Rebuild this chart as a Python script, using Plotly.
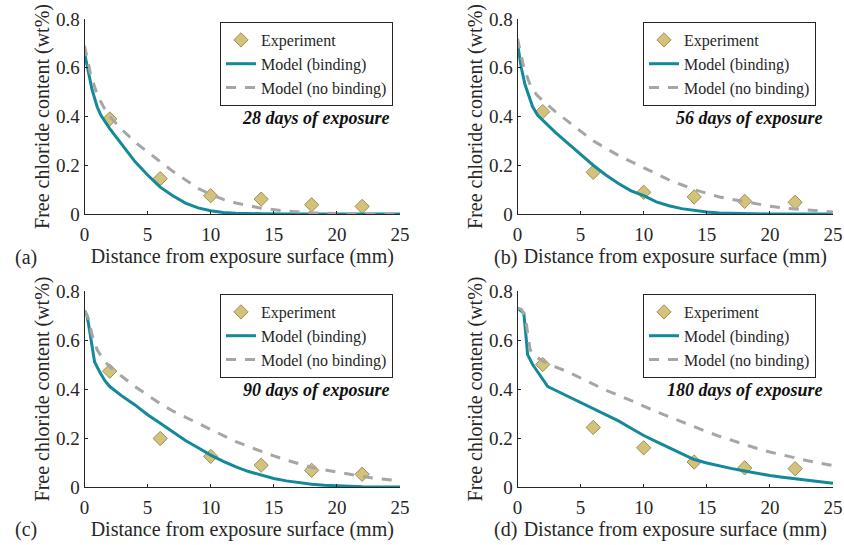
import plotly.graph_objects as go

# ---------------- data ----------------
exp_x = [2, 6, 10, 14, 18, 22]
exp_a = [0.39, 0.145, 0.075, 0.061, 0.038, 0.031]
exp_b = [0.42, 0.171, 0.089, 0.070, 0.052, 0.048]
exp_c = [0.473, 0.198, 0.125, 0.089, 0.068, 0.052]
exp_d = [0.50, 0.243, 0.160, 0.102, 0.078, 0.075]

bind_a_x = [0, 0.3, 0.6, 1.0, 1.3, 2, 3, 4, 5, 6, 7, 8, 9, 10, 11, 12, 14, 16, 25]
bind_a_y = [0.66, 0.58, 0.51, 0.44, 0.405, 0.35, 0.28, 0.215, 0.16, 0.11, 0.075, 0.045,
            0.025, 0.013, 0.006, 0.003, 0.001, 0.0, 0.0]
nob_a_x = [0, 0.5, 1, 1.5, 2, 3, 4, 5, 6, 7, 8, 9, 10, 11, 12, 13, 14, 16, 18, 20, 22, 25]
nob_a_y = [0.69, 0.57, 0.49, 0.44, 0.40, 0.345, 0.295, 0.255, 0.215, 0.175, 0.14, 0.105,
           0.08, 0.06, 0.045, 0.033, 0.024, 0.012, 0.005, 0.002, 0.001, 0.0]

bind_b_x = [0, 0.3, 0.6, 0.9, 1.2, 1.6, 2, 3, 4, 5, 6, 7, 8, 9, 10, 11, 12, 13, 14, 15, 16, 18, 20, 25]
bind_b_y = [0.70, 0.60, 0.53, 0.48, 0.44, 0.405, 0.385, 0.335, 0.29, 0.245, 0.20, 0.16, 0.125,
            0.095, 0.075, 0.05, 0.034, 0.022, 0.014, 0.008, 0.004, 0.001, 0.0, 0.0]
nob_b_x = [0, 0.5, 1, 1.5, 2, 3, 4, 5, 6, 7, 8, 9, 10, 11, 12, 13, 14, 15, 16, 17, 18, 19, 20,
           21, 22, 23, 24, 25]
nob_b_y = [0.72, 0.60, 0.53, 0.49, 0.465, 0.42, 0.38, 0.34, 0.30, 0.27, 0.24, 0.215, 0.19,
           0.165, 0.14, 0.12, 0.10, 0.085, 0.07, 0.06, 0.05, 0.04, 0.032, 0.025, 0.02, 0.015,
           0.011, 0.008]

bind_c_x = [0, 0.2, 0.4, 0.6, 0.8, 1.2, 1.6, 2, 3, 4, 5, 6, 7, 8, 9, 10, 11, 12, 13, 14, 15, 16,
            17, 18, 19, 20, 22, 25]
bind_c_y = [0.72, 0.70, 0.64, 0.57, 0.51, 0.47, 0.435, 0.41, 0.37, 0.335, 0.295, 0.26, 0.225,
            0.19, 0.16, 0.13, 0.105, 0.082, 0.063, 0.048, 0.035, 0.025, 0.017, 0.011, 0.007,
            0.004, 0.001, 0.0]
nob_c_x = [0, 0.3, 0.6, 1, 1.5, 2, 3, 4, 5, 6, 7, 8, 9, 10, 11, 12, 13, 14, 15, 16, 17, 18, 19,
           20, 21, 22, 23, 24, 25]
nob_c_y = [0.72, 0.69, 0.62, 0.56, 0.52, 0.49, 0.45, 0.41, 0.375, 0.34, 0.31, 0.285, 0.26,
           0.235, 0.21, 0.185, 0.165, 0.145, 0.127, 0.11, 0.095, 0.08, 0.07, 0.06, 0.05,
           0.043, 0.036, 0.03, 0.025]

bind_d_x = [0, 0.3, 0.5, 0.7, 0.8, 1.2, 1.6, 2, 2.4, 3, 4, 5, 6, 7, 8, 9, 10, 11, 12, 13, 14, 15,
            16, 17, 18, 19, 20, 21, 22, 23, 24, 25]
bind_d_y = [0.73, 0.72, 0.71, 0.60, 0.54, 0.50, 0.47, 0.44, 0.41, 0.395, 0.37, 0.345, 0.32,
            0.295, 0.27, 0.24, 0.21, 0.185, 0.16, 0.135, 0.112, 0.098, 0.085, 0.075, 0.065,
            0.055, 0.047, 0.04, 0.033, 0.026, 0.02, 0.015]
nob_d_x = [0, 0.3, 0.6, 0.8, 1.0, 1.5, 2, 3, 4, 5, 6, 7, 8, 9, 10, 11, 12, 13, 14, 15, 16, 17, 18,
           19, 20, 21, 22, 23, 24, 25]
nob_d_y = [0.73, 0.725, 0.70, 0.63, 0.56, 0.53, 0.515, 0.49, 0.47, 0.445, 0.42, 0.395, 0.375,
           0.352, 0.33, 0.308, 0.287, 0.266, 0.245, 0.226, 0.207, 0.19, 0.172, 0.157, 0.143,
           0.13, 0.118, 0.107, 0.097, 0.088]

panel_labels = ["(a)", "(b)", "(c)", "(d)"]
panel_notes = ["28 days of exposure", "56 days of exposure",
               "90 days of exposure", "180 days of exposure"]
series_names = ["Experiment", "Model (binding)", "Model (no binding)"]
x_ticks = [0, 5, 10, 15, 20, 25]
y_ticks = [0, 0.2, 0.4, 0.6, 0.8]
y_tick_text = ["0", "0.2", "0.4", "0.6", "0.8"]
x_title = "Distance from exposure surface (mm)"
y_title = "Free chloride content (wt%)"

panels = [
    (exp_a, bind_a_x, bind_a_y, nob_a_x, nob_a_y),
    (exp_b, bind_b_x, bind_b_y, nob_b_x, nob_b_y),
    (exp_c, bind_c_x, bind_c_y, nob_c_x, nob_c_y),
    (exp_d, bind_d_x, bind_d_y, nob_d_x, nob_d_y),
]

# ---------------- layout geometry ----------------
W, H = 844, 545
FONT = "Liberation Serif, Times New Roman, serif"
TXT = "#262626"
TEAL = "#14899A"
GRAY = "#A6A6A6"
KHAKI = "#D4C27A"
KHAKI_EDGE = "#9C8F5A"

# pixel boxes (left, right, top, bottom)
boxes = [(84.5, 400, 19, 214), (517.5, 833, 19, 214),
         (84.5, 400, 291, 487), (517.5, 833, 291, 487)]
legend_pos = [(393, 22), (816, 22), (393, 294), (816, 294)]
label_pos = [(26, 257), (505, 257), (26, 529), (505, 529)]

fig = go.Figure()
layout = dict(
    width=W, height=H,
    margin=dict(l=0, r=0, t=0, b=0, autoexpand=False),
    paper_bgcolor="white", plot_bgcolor="white",
    font=dict(family=FONT, size=19, color=TXT),
    annotations=[],
)

for i, (ex, bx, by, nx, ny) in enumerate(panels):
    n = i + 1
    xa = "x" if n == 1 else f"x{n}"
    ya = "y" if n == 1 else f"y{n}"
    leg = "legend" if n == 1 else f"legend{n}"
    fig.add_trace(go.Scatter(
        x=exp_x, y=ex, mode="markers", name=series_names[0],
        marker=dict(symbol="diamond", size=11, color=KHAKI,
                    line=dict(color=KHAKI_EDGE, width=1)),
        xaxis=xa, yaxis=ya, legend=leg, cliponaxis=False))
    fig.add_trace(go.Scatter(
        x=bx, y=by, mode="lines", name=series_names[1],
        line=dict(color=TEAL, width=3),
        xaxis=xa, yaxis=ya, legend=leg))
    fig.add_trace(go.Scatter(
        x=nx, y=ny, mode="lines", name=series_names[2],
        line=dict(color=GRAY, width=3, dash="10px,9px"),
        xaxis=xa, yaxis=ya, legend=leg))

    l, r, t, b = boxes[i]
    axkey_x = "xaxis" if n == 1 else f"xaxis{n}"
    axkey_y = "yaxis" if n == 1 else f"yaxis{n}"
    layout[axkey_x] = dict(
        domain=[l / W, r / W], anchor=ya, range=[0, 25], automargin=False,
        tickvals=x_ticks, ticks="inside", ticklen=3, tickcolor=TXT,
        ticklabelstandoff=3,
        showline=True, linecolor=TXT, linewidth=1, showgrid=False, zeroline=False,
        tickfont=dict(family=FONT, size=19, color=TXT),
        title=dict(text=x_title, font=dict(family=FONT, size=20, color=TXT), standoff=1),
    )
    layout[axkey_y] = dict(
        domain=[1 - b / H, 1 - t / H], anchor=xa, range=[0, 0.8], automargin=False,
        tickvals=y_ticks, ticktext=y_tick_text, ticks="inside", ticklen=3, tickcolor=TXT,
        showline=True, linecolor=TXT, linewidth=1, showgrid=False, zeroline=False,
        tickfont=dict(family=FONT, size=19, color=TXT),
        title=dict(text=y_title, font=dict(family=FONT, size=20, color=TXT), standoff=0),
    )
    lx, ly = legend_pos[i]
    layout[leg] = dict(
        x=lx / W, y=1 - ly / H, xanchor="right", yanchor="top",
        xref="paper", yref="paper",
        bgcolor="white", bordercolor=TXT, borderwidth=1,
        font=dict(family=FONT, size=16, color=TXT),
        itemwidth=30, tracegroupgap=0,
    )
    layout["annotations"].append(dict(
        text=f"<b><i>{panel_notes[i]}</i></b>", x=24.4, y=0.395,
        xref=xa, yref=ya, xanchor="right", yanchor="middle", showarrow=False,
        font=dict(family=FONT, size=18, color="#111111")))
    px, py = label_pos[i]
    layout["annotations"].append(dict(
        text=panel_labels[i], x=px / W, y=1 - py / H, xref="paper", yref="paper",
        xanchor="center", yanchor="middle", showarrow=False,
        font=dict(family=FONT, size=20, color=TXT)))

fig.update_layout(**layout)
fig.write_html("out.html")
